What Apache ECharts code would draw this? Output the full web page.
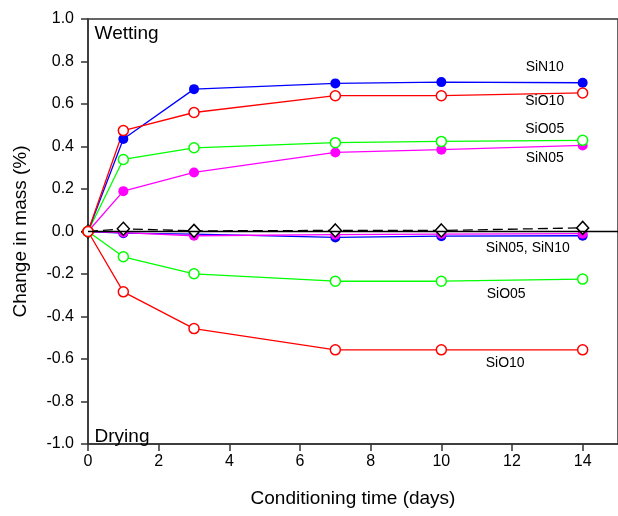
<!DOCTYPE html>
<html><head><meta charset="utf-8">
<script src="https://cdn.jsdelivr.net/npm/echarts@6/dist/echarts.min.js"></script>
<style>html,body{margin:0;padding:0;background:#fff}#c{width:618px;height:516px}</style>
</head><body><div id="c"></div>
<script>
const days = [0, 1, 3, 7, 10, 14];
const sin10Wet = [0, 0.435, 0.67, 0.697, 0.703, 0.700];
const sio10Wet = [0, 0.475, 0.56, 0.639, 0.639, 0.652];
const sio05Wet = [0, 0.339, 0.394, 0.418, 0.424, 0.429];
const sin05Wet = [0, 0.19, 0.278, 0.372, 0.385, 0.405];
const sin10Dry = [0, -0.008, -0.012, -0.028, -0.022, -0.020];
const sin05Dry = [0, -0.005, -0.02, -0.015, -0.012, -0.010];
const sio05Dry = [0, -0.119, -0.199, -0.234, -0.234, -0.224];
const sio10Dry = [0, -0.284, -0.457, -0.557, -0.557, -0.557];
const control = [0, 0.013, 0.003, 0.005, 0.005, 0.017];
const xTicks = [0, 2, 4, 6, 8, 10, 12, 14];
const yTicks = [-1.0, -0.8, -0.6, -0.4, -0.2, 0.0, 0.2, 0.4, 0.6, 0.8, 1.0];
const seriesLabels = [
  ['SiN10', 12.94, 0.771],
  ['SiO10', 12.94, 0.611],
  ['SiO05', 12.94, 0.479],
  ['SiN05', 12.94, 0.342],
  ['SiN05, SiN10', 12.46, -0.081],
  ['SiO05', 11.85, -0.298],
  ['SiO10', 11.82, -0.623]
];
const regionLabels = [
  ['Wetting', 0.2, 0.929],
  ['Drying', 0.2, -0.966]
];

const FONT = '"Liberation Sans", Arial, sans-serif';
const BLUE = '#0000ff', RED = '#ff0000', GREEN = '#00ff00', MAG = '#ff00ff';
const pair = arr => days.map((d, i) => [d, arr[i]]);

function filled(name, arr, color) {
  return { name, type: 'line', data: pair(arr), symbol: 'circle', symbolSize: 10,
    lineStyle: { color, width: 1.3 }, itemStyle: { color, borderColor: color, borderWidth: 0 },
    emphasis: { disabled: true }, animation: false };
}
function open(name, arr, color) {
  return { name, type: 'line', data: pair(arr), symbol: 'circle', symbolSize: 10,
    lineStyle: { color, width: 1.3 }, itemStyle: { color: '#fff', borderColor: color, borderWidth: 1.5 },
    emphasis: { disabled: true }, animation: false };
}
function textSeries(list, size, align) {
  return { type: 'scatter', symbolSize: 1, silent: true, z: 10,
    itemStyle: { opacity: 0 },
    data: list.map(l => ({ value: [l[1], l[2]], name: l[0] })),
    label: { show: true, position: [0, 0], align, verticalAlign: 'middle', formatter: p => p.name,
      fontFamily: FONT, fontSize: size, color: '#000', opacity: 1 } };
}

const chart = echarts.init(document.getElementById('c'), null, { renderer: 'canvas' });
chart.setOption({
  animation: false,
  grid: { left: 88, top: 19, bottom: 72, right: -6, show: true, borderColor: '#333', borderWidth: 1.5, backgroundColor: 'transparent' },
  xAxis: {
    type: 'value', min: 0, max: 15, interval: 2,
    name: 'Conditioning time (days)', nameLocation: 'middle', nameGap: 45,
    nameTextStyle: { fontFamily: FONT, fontSize: 19, color: '#000' },
    axisLine: { show: true, onZero: false, lineStyle: { color: '#333', width: 1.5 } },
    axisTick: { show: true, length: 7, inside: false, lineStyle: { color: '#333', width: 1.5 },
      customValues: xTicks },
    axisLabel: { fontFamily: FONT, fontSize: 16, color: '#000', margin: 10, customValues: xTicks },
    splitLine: { show: false }
  },
  yAxis: {
    type: 'value', min: -1, max: 1, interval: 0.2,
    name: 'Change in mass (%)', nameLocation: 'middle', nameGap: 58, nameRotate: 90,
    nameTextStyle: { fontFamily: FONT, fontSize: 19, color: '#000' },
    axisLine: { show: true, onZero: false, lineStyle: { color: '#333', width: 1.5 } },
    axisTick: { show: true, length: 7, inside: false, lineStyle: { color: '#333', width: 1.5 } },
    axisLabel: { fontFamily: FONT, fontSize: 16, color: '#000', margin: 14,
      formatter: v => { const t = yTicks.find(y => Math.abs(y - v) < 1e-6); return (t === undefined ? v : t).toFixed(1); } },
    splitLine: { show: false }
  },
  series: [
    filled('SiN10 drying', sin10Dry, BLUE),
    filled('SiN05 drying', sin05Dry, MAG),
    { name: 'Control', type: 'line', data: pair(control), symbol: 'diamond', symbolSize: [12, 13],
      lineStyle: { color: '#000', width: 1.3, type: [10, 5] },
      itemStyle: { color: '#fff', borderColor: '#000', borderWidth: 1.5 },
      markLine: { silent: true, symbol: 'none', label: { show: false },
        lineStyle: { color: '#000', width: 1.3, type: 'solid' }, data: [{ yAxis: 0 }] },
      emphasis: { disabled: true }, animation: false },
    open('SiO05 drying', sio05Dry, GREEN),
    filled('SiN05 wetting', sin05Wet, MAG),
    open('SiO05 wetting', sio05Wet, GREEN),
    filled('SiN10 wetting', sin10Wet, BLUE),
    open('SiO10 wetting', sio10Wet, RED),
    open('SiO10 drying', sio10Dry, RED),
    textSeries(seriesLabels, 14, 'center'),
    textSeries(regionLabels, 19, 'left')
  ]
});
</script></body></html>
